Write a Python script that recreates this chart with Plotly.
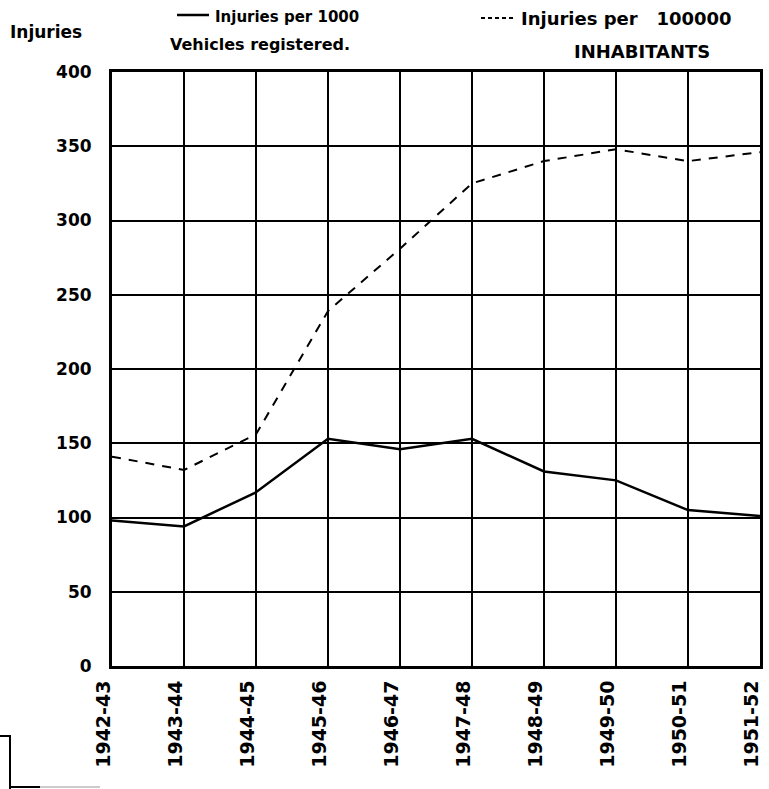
import plotly.graph_objects as go

years = ["1942-43", "1943-44", "1944-45", "1945-46", "1946-47",
         "1947-48", "1948-49", "1949-50", "1950-51", "1951-52"]
per_1000_vehicles = [98, 94, 117, 153, 146, 153, 131, 125, 105, 101]
per_100000_inhabitants = [141, 132, 156, 239, 281, 325, 340, 348, 340, 346]
y_ticks = [0, 50, 100, 150, 200, 250, 300, 350, 400]
y_tick_labels = ["0", "50", "100", "150", "200", "250", "300", "350", "400"]

W, H = 769, 789
L, R, T, B = 112, 760, 72, 666


def px(x):
    return (x - L) / (R - L)


def py(y):
    return (B - y) / (B - T)


FONT = "DejaVu Sans"
xs = list(range(len(years)))

fig = go.Figure()
fig.add_trace(go.Scatter(
    x=xs, y=per_1000_vehicles, mode="lines",
    line=dict(color="black", width=2.5),
    name="Injuries per 1000 Vehicles registered.", showlegend=False))
fig.add_trace(go.Scatter(
    x=xs, y=per_100000_inhabitants, mode="lines",
    line=dict(color="black", width=2, dash="9px,8px"),
    name="Injuries per 100000 INHABITANTS", showlegend=False))

fig.update_layout(
    width=W, height=H,
    margin=dict(l=L, r=W - R, t=T, b=H - B, autoexpand=False),
    paper_bgcolor="white", plot_bgcolor="white",
    font=dict(family=FONT, color="black"),
)
fig.update_xaxes(
    range=[0, len(years) - 1], automargin=False,
    tickmode="array", tickvals=xs, ticktext=years,
    tickangle=-90, ticks="", ticklabelstandoff=4, ticklabelshift=-8,
    tickfont=dict(family=FONT, size=19, weight="bold", color="black"),
    showgrid=True, gridcolor="black", gridwidth=2.5,
    showline=True, linecolor="black", linewidth=3, mirror=True,
    zeroline=False,
)
fig.update_yaxes(
    range=[0, 400], automargin=False,
    tickmode="array", tickvals=y_ticks, ticktext=y_tick_labels,
    ticks="", ticklabelstandoff=14,
    tickfont=dict(family=FONT, size=17, weight="bold", color="black"),
    showgrid=True, gridcolor="black", gridwidth=2,
    showline=True, linecolor="black", linewidth=3, mirror=True,
    zeroline=False,
)

ann = [
    ("Injuries", 8, 32, 17),
    ("Injuries per 1000", 213, 17, 15),
    ("Vehicles registered.", 168, 44, 16),
    ("Injuries per   100000", 519, 18, 18),
    ("INHABITANTS", 572, 52, 18),
]
for t, x, y, s in ann:
    fig.add_annotation(text=t, x=px(x), y=py(y), xref="paper", yref="paper",
                       xanchor="left", yanchor="middle", showarrow=False,
                       font=dict(family=FONT, size=s, color="black", weight="bold"))

fig.add_shape(type="line", xref="paper", yref="paper",
              x0=px(177), x1=px(209), y0=py(15), y1=py(15),
              line=dict(color="black", width=2.5))
fig.add_shape(type="line", xref="paper", yref="paper",
              x0=px(481), x1=px(513), y0=py(18), y1=py(18),
              line=dict(color="black", width=2, dash="4px,3px"))

# scan artefact box at bottom left
fig.add_shape(type="path", xref="paper", yref="paper",
              path=f"M {px(0)},{py(736)} L {px(10)},{py(736)} L {px(10)},{py(789)}",
              line=dict(color="black", width=2))
fig.add_shape(type="line", xref="paper", yref="paper",
              x0=px(10), x1=px(40), y0=py(787), y1=py(787),
              line=dict(color="black", width=2))
fig.add_shape(type="line", xref="paper", yref="paper",
              x0=px(40), x1=px(100), y0=py(787), y1=py(787),
              line=dict(color="#bbbbbb", width=1.5))

fig.write_html("out.html",
               config={"displayModeBar": False, "staticPlot": True},
               post_script="document.body.style.margin='0';document.body.style.overflow='hidden';")
